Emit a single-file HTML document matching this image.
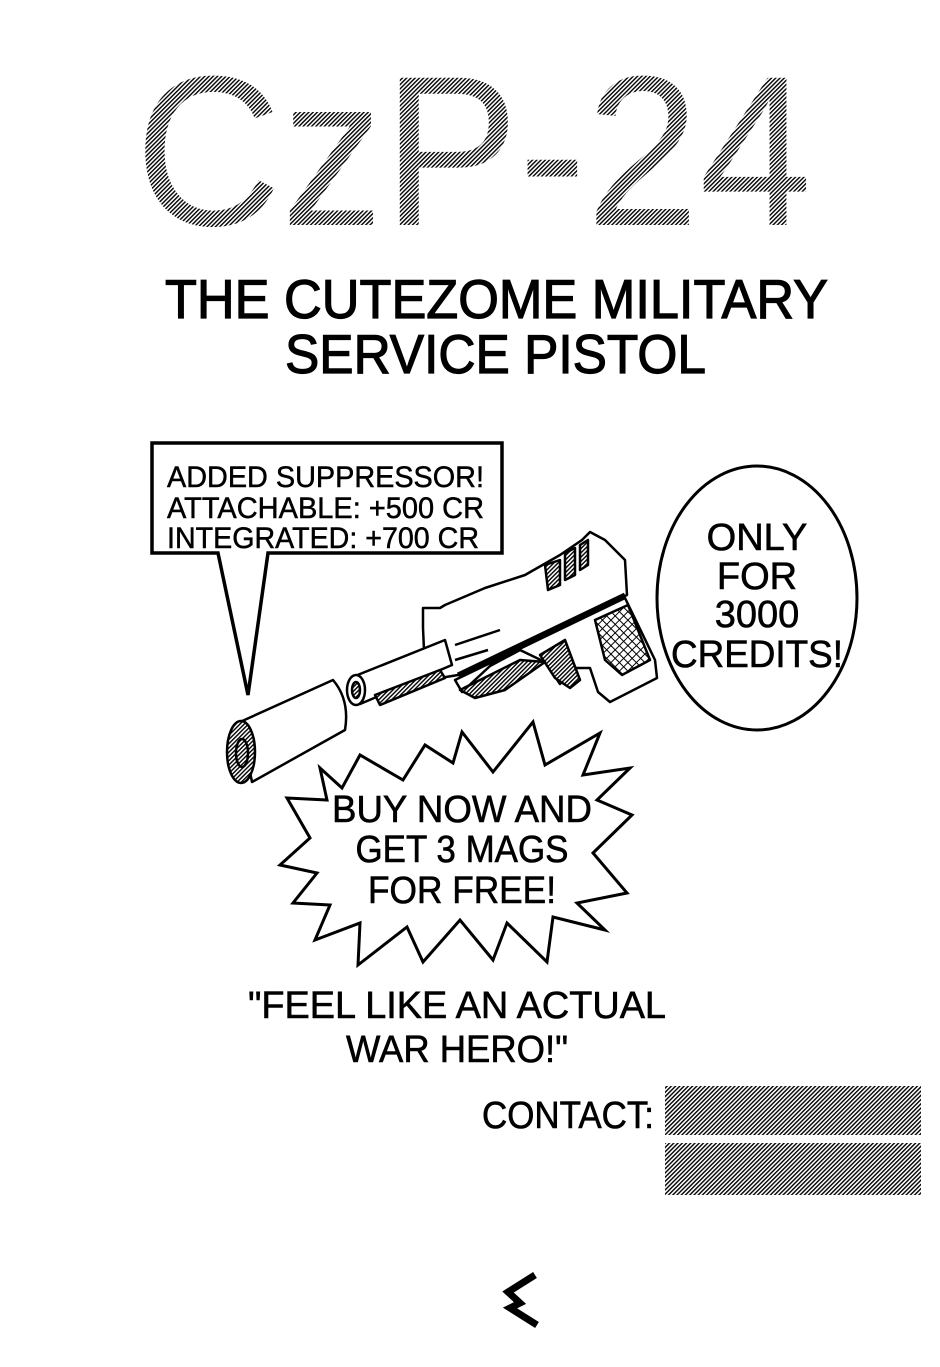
<!DOCTYPE html>
<html><head><meta charset="utf-8"><style>
html,body{margin:0;padding:0;background:#fff;}
svg{display:block;}
text{font-family:"Liberation Sans Narrow","Liberation Sans",sans-serif;}
</style></head><body>
<svg width="940" height="1367" viewBox="0 0 940 1367" xmlns="http://www.w3.org/2000/svg">
<defs>
<pattern id="h" width="3" height="3" patternUnits="userSpaceOnUse" patternTransform="rotate(45)">
<rect width="3" height="3" fill="#fff"/><rect width="1.4" height="3" fill="#000"/>
</pattern>
<pattern id="x" width="6" height="6" patternUnits="userSpaceOnUse" patternTransform="rotate(45)">
<rect width="6" height="6" fill="#fff"/><rect width="1" height="6" fill="#000"/><rect width="6" height="1" fill="#000"/>
</pattern>
</defs>
<rect width="940" height="1367" fill="#fff"/>
<text x="135" y="225" font-size="214" fill="url(#h)" textLength="677" lengthAdjust="spacingAndGlyphs">CzP-24</text>
<g stroke="#000" stroke-width="1.2">
<text x="165" y="318" font-size="55" textLength="663" lengthAdjust="spacingAndGlyphs">THE CUTEZOME MILITARY</text>
<text x="285" y="373" font-size="55" textLength="421" lengthAdjust="spacingAndGlyphs">SERVICE PISTOL</text>
</g>

<!-- speech box -->
<polygon points="152,443 502,443 502,553 268,553 248,695 218,553 152,553" fill="#fff" stroke="#000" stroke-width="3.5"/>
<g stroke="#000" stroke-width="0.5">
<text x="167" y="487" font-size="30" textLength="317" lengthAdjust="spacingAndGlyphs">ADDED SUPPRESSOR!</text>
<text x="167" y="518" font-size="30" textLength="317" lengthAdjust="spacingAndGlyphs">ATTACHABLE: +500 CR</text>
<text x="167" y="548" font-size="30" textLength="312" lengthAdjust="spacingAndGlyphs">INTEGRATED: +700 CR</text>
</g>

<!-- ellipse -->
<ellipse cx="757" cy="598" rx="100" ry="132" fill="#fff" stroke="#000" stroke-width="3"/>
<g font-size="38" text-anchor="middle" stroke="#000" stroke-width="0.6">
<text x="757" y="550">ONLY</text>
<text x="757" y="589">FOR</text>
<text x="757" y="627">3000</text>
<text x="757" y="667" textLength="172" lengthAdjust="spacingAndGlyphs">CREDITS!</text>
</g>

<!-- gun -->
<g stroke="#000" stroke-width="2.5" stroke-linejoin="round" fill="#fff">
<path d="M240,722 L333,680 Q350,700 345,730 L252,782 Z"/>
<ellipse cx="241" cy="752" rx="14" ry="31" fill="url(#h)"/>
<ellipse cx="242" cy="753" rx="6" ry="14" fill="url(#h)"/>
<polygon points="455,680 625,598 655,660 657,678 610,702 598,692 590,668 572,668 560,684 545,662 520,650 490,666 462,692" fill="#fff"/>
<polygon points="595,620 628,605 650,660 622,675 605,660" fill="url(#x)"/>
<polygon points="540,655 565,640 580,680 570,688 555,678" fill="url(#h)"/>
<polygon points="460,690 520,660 545,662 505,690 475,698" fill="url(#h)"/>
<polygon points="423,628 423,608 440,608 445,605 485,588 525,575 560,555 582,540 590,532 605,540 625,560 627,595 458,675 440,678 425,672" fill="#fff"/>
<path d="M545,565 L560,560 L560,585 L548,590 Z" fill="url(#h)"/>
<path d="M565,553 L575,548 L575,575 L565,580 Z" fill="url(#h)"/>
<path d="M580,545 L588,540 L588,565 L580,570 Z" fill="url(#h)"/>
<line x1="455" y1="645" x2="500" y2="630" />
<line x1="455" y1="660" x2="488" y2="650" />
<line x1="458" y1="675" x2="625" y2="595" stroke-width="5"/>
<path d="M355,676 L445,640 L452,665 L360,704 Z"/>
<ellipse cx="356" cy="690" rx="9" ry="15"/>
<ellipse cx="356" cy="690" rx="4" ry="8" fill="url(#h)"/>
<polygon points="375,695 440,670 445,678 380,705" fill="url(#h)"/>
</g>

<!-- starburst -->
<polygon points="320,768 342,788 360,755 403,780 425,745 453,763 462,732 493,772 533,722 545,765 600,733 583,775 630,768 597,800 632,815 593,853 627,893 577,903 605,930 553,917 547,962 507,923 493,960 460,920 423,962 407,927 358,965 360,923 315,940 330,905 293,903 317,873 280,865 310,838 287,798 327,800" fill="#fff" stroke="#000" stroke-width="3" stroke-linejoin="miter"/>
<g font-size="38" text-anchor="middle" stroke="#000" stroke-width="0.6">
<text x="462" y="822" textLength="260" lengthAdjust="spacingAndGlyphs">BUY NOW AND</text>
<text x="462" y="862" textLength="213" lengthAdjust="spacingAndGlyphs">GET 3 MAGS</text>
<text x="462" y="903" textLength="188" lengthAdjust="spacingAndGlyphs">FOR FREE!</text>
</g>

<g font-size="38" text-anchor="middle" stroke="#000" stroke-width="0.6">
<text x="457" y="1018" textLength="418" lengthAdjust="spacingAndGlyphs">"FEEL LIKE AN ACTUAL</text>
<text x="457" y="1062" textLength="222" lengthAdjust="spacingAndGlyphs">WAR HERO!"</text>
<text x="568" y="1128" textLength="172" lengthAdjust="spacingAndGlyphs">CONTACT:</text>
</g>
<rect x="665" y="1086" width="256" height="49" fill="url(#h)"/>
<rect x="665" y="1143" width="256" height="52" fill="url(#h)"/>

<polyline points="535,1275 508,1292 520,1303 510,1308 537,1325" fill="none" stroke="#000" stroke-width="7" stroke-linejoin="miter"/>
</svg>
</body></html>
